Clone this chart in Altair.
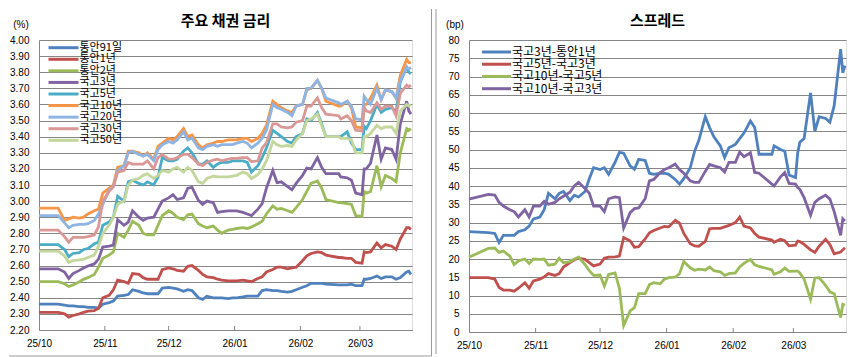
import altair as alt
import pandas as pd

# ---------------- data ----------------
dates = [
    "2025-10-01", "2025-10-10", "2025-10-13", "2025-10-15", "2025-10-17", "2025-10-20", "2025-10-22", "2025-10-24", "2025-10-27", "2025-10-29",
    "2025-10-31", "2025-11-03", "2025-11-05", "2025-11-07", "2025-11-10", "2025-11-12", "2025-11-14", "2025-11-17", "2025-11-19", "2025-11-21",
    "2025-11-24", "2025-11-26", "2025-11-28", "2025-12-01", "2025-12-03", "2025-12-05", "2025-12-08", "2025-12-10", "2025-12-12", "2025-12-15",
    "2025-12-17", "2025-12-19", "2025-12-22", "2025-12-24", "2025-12-26", "2025-12-29", "2025-12-31", "2026-01-02", "2026-01-05", "2026-01-07",
    "2026-01-09", "2026-01-12", "2026-01-14", "2026-01-16", "2026-01-19", "2026-01-21", "2026-01-23", "2026-01-26", "2026-01-28", "2026-01-30",
    "2026-02-02", "2026-02-04", "2026-02-06", "2026-02-09", "2026-02-11", "2026-02-13", "2026-02-19", "2026-02-20", "2026-02-23", "2026-02-25",
    "2026-02-27", "2026-03-02", "2026-03-03", "2026-03-04", "2026-03-06", "2026-03-09", "2026-03-11", "2026-03-13", "2026-03-16", "2026-03-18",
    "2026-03-20", "2026-03-23", "2026-03-24", "2026-03-25",
]

left_names = ["통안91일", "통안1년", "통안2년", "국고3년", "국고5년", "국고10년", "국고20년", "국고30년", "국고50년"]
left_colors = ["#4F81BD", "#C0504D", "#9BBB59", "#8064A2", "#4BACC6", "#F79646", "#8EB4E3", "#D99795", "#C3D69B"]

msb_91d = [2.36, 2.36, 2.355, 2.35, 2.35, 2.345, 2.345, 2.34, 2.34, 2.335,
           2.36, 2.37, 2.38, 2.41, 2.415, 2.42, 2.45, 2.44, 2.43, 2.425,
           2.425, 2.425, 2.46, 2.465, 2.46, 2.455, 2.44, 2.45, 2.445, 2.40,
           2.39, 2.41, 2.40, 2.40, 2.40, 2.395, 2.40, 2.40, 2.405, 2.41,
           2.41, 2.41, 2.445, 2.45, 2.445, 2.445, 2.44, 2.435, 2.44, 2.45,
           2.465, 2.475, 2.49, 2.49, 2.49, 2.485, 2.48, 2.48, 2.48, 2.485,
           2.475, 2.475, 2.515, 2.515, 2.52, 2.535, 2.52, 2.53, 2.53, 2.515,
           2.525, 2.56, 2.565, 2.545]
msb_1y = [2.31, 2.31, 2.30, 2.28, 2.29, 2.30, 2.31, 2.317, 2.32, 2.335,
          2.40, 2.415, 2.45, 2.51, 2.50, 2.49, 2.55, 2.545, 2.525, 2.515,
          2.515, 2.515, 2.575, 2.585, 2.58, 2.57, 2.565, 2.595, 2.60, 2.57,
          2.545, 2.53, 2.525, 2.515, 2.51, 2.505, 2.505, 2.505, 2.51, 2.505,
          2.50, 2.52, 2.53, 2.56, 2.575, 2.59, 2.59, 2.58, 2.585, 2.59,
          2.63, 2.66, 2.675, 2.685, 2.68, 2.665, 2.65, 2.65, 2.645, 2.645,
          2.62, 2.615, 2.685, 2.68, 2.685, 2.74, 2.71, 2.73, 2.72, 2.70,
          2.765, 2.835, 2.835, 2.825]
msb_2y = [2.50, 2.50, 2.487, 2.47, 2.48, 2.50, 2.515, 2.525, 2.545, 2.59,
          2.645, 2.665, 2.685, 2.80, 2.775, 2.82, 2.875, 2.85, 2.80, 2.79,
          2.79, 2.85, 2.91, 2.94, 2.925, 2.90, 2.885, 2.915, 2.92, 2.86,
          2.845, 2.835, 2.845, 2.82, 2.80, 2.82, 2.825, 2.83, 2.835, 2.83,
          2.84, 2.86, 2.875, 2.92, 2.97, 2.95, 2.955, 2.94, 2.93, 2.96,
          3.01, 3.06, 3.11, 3.125, 3.08, 3.01, 2.99, 2.99, 2.985, 2.98,
          2.91, 2.905, 3.06, 3.05, 3.06, 3.22, 3.09, 3.16, 3.14, 3.12,
          3.30, 3.45, 3.44, 3.45]
ktb_3y = [2.58, 2.58, 2.56, 2.52, 2.55, 2.57, 2.585, 2.597, 2.61, 2.64,
          2.715, 2.72, 2.727, 2.885, 2.85, 2.87, 2.94, 2.90, 2.88, 2.895,
          2.90, 2.95, 3.00, 3.02, 3.04, 3.01, 3.02, 3.08, 3.085, 3.005,
          2.98, 3.00, 2.99, 2.93, 2.935, 2.94, 2.94, 2.94, 2.93, 2.92,
          2.91, 2.95, 2.985, 3.08, 3.19, 3.115, 3.12, 3.09, 3.07, 3.11,
          3.16, 3.205, 3.20, 3.27, 3.21, 3.17, 3.17, 3.15, 3.145, 3.13,
          3.05, 3.04, 3.20, 3.20, 3.235, 3.41, 3.26, 3.33, 3.32, 3.26,
          3.48, 3.62, 3.56, 3.54]
ktb_5y = [2.73, 2.73, 2.70, 2.655, 2.675, 2.68, 2.70, 2.705, 2.735, 2.745,
          2.85, 2.87, 2.90, 3.03, 3.00, 3.12, 3.13, 3.11, 3.10, 3.12,
          3.10, 3.15, 3.27, 3.25, 3.25, 3.26, 3.31, 3.33, 3.30, 3.23,
          3.23, 3.25, 3.21, 3.23, 3.24, 3.24, 3.25, 3.25, 3.25, 3.24,
          3.18, 3.22, 3.27, 3.33, 3.44, 3.42, 3.40, 3.37, 3.36, 3.40,
          3.42, 3.51, 3.50, 3.55, 3.48, 3.40, 3.40, 3.40, 3.43, 3.36,
          3.32, 3.32, 3.465, 3.45, 3.50, 3.60, 3.55, 3.57, 3.58, 3.55,
          3.74, 3.83, 3.80, 3.79]
ktb_10y = [2.957, 2.957, 2.88, 2.89, 2.90, 2.895, 2.90, 2.92, 2.94, 2.95,
           3.05, 3.08, 3.10, 3.21, 3.22, 3.31, 3.31, 3.30, 3.28, 3.30,
           3.26, 3.34, 3.36, 3.39, 3.38, 3.40, 3.45, 3.40, 3.41, 3.35,
           3.33, 3.35, 3.36, 3.37, 3.37, 3.38, 3.38, 3.38, 3.39, 3.39,
           3.37, 3.39, 3.42, 3.47, 3.62, 3.60, 3.58, 3.56, 3.55, 3.59,
           3.60, 3.69, 3.70, 3.75, 3.70, 3.62, 3.59, 3.59, 3.62, 3.58,
           3.46, 3.455, 3.60, 3.60, 3.64, 3.72, 3.63, 3.69, 3.68, 3.64,
           3.78, 3.88, 3.86, 3.86]
ktb_20y = [2.91, 2.91, 2.865, 2.835, 2.85, 2.855, 2.855, 2.86, 2.88, 2.92,
           2.98, 3.07, 3.09, 3.19, 3.22, 3.30, 3.31, 3.29, 3.28, 3.29,
           3.25, 3.32, 3.35, 3.37, 3.36, 3.38, 3.43, 3.38, 3.39, 3.33,
           3.32, 3.34, 3.35, 3.34, 3.35, 3.35, 3.35, 3.36, 3.37, 3.36,
           3.33, 3.36, 3.39, 3.44, 3.60, 3.58, 3.57, 3.55, 3.53, 3.59,
           3.60, 3.70, 3.70, 3.75, 3.70, 3.64, 3.61, 3.60, 3.62, 3.59,
           3.51, 3.505, 3.65, 3.63, 3.60, 3.70, 3.63, 3.69, 3.68, 3.64,
           3.75, 3.83, 3.82, 3.83]
ktb_30y = [2.82, 2.82, 2.78, 2.745, 2.775, 2.775, 2.775, 2.78, 2.79, 2.84,
           3.00, 3.06, 3.09, 3.18, 3.19, 3.24, 3.23, 3.23, 3.23, 3.25,
           3.20, 3.27, 3.29, 3.26, 3.26, 3.27, 3.29, 3.29, 3.27, 3.23,
           3.22, 3.24, 3.255, 3.26, 3.25, 3.26, 3.265, 3.265, 3.27, 3.27,
           3.245, 3.25, 3.33, 3.36, 3.48, 3.48, 3.46, 3.455, 3.46, 3.49,
           3.50, 3.59, 3.59, 3.64, 3.58, 3.54, 3.53, 3.51, 3.53, 3.50,
           3.44, 3.435, 3.58, 3.56, 3.55, 3.61, 3.57, 3.59, 3.59, 3.53,
           3.67, 3.72, 3.71, 3.72]
ktb_50y = [2.69, 2.69, 2.66, 2.62, 2.63, 2.635, 2.64, 2.65, 2.665, 2.72,
           2.80, 2.85, 2.90, 2.98, 3.00, 3.10, 3.13, 3.14, 3.16, 3.17,
           3.14, 3.16, 3.19, 3.18, 3.20, 3.21, 3.18, 3.21, 3.19, 3.12,
           3.11, 3.14, 3.155, 3.15, 3.15, 3.15, 3.155, 3.16, 3.18, 3.17,
           3.14, 3.165, 3.20, 3.25, 3.37, 3.35, 3.34, 3.345, 3.34, 3.38,
           3.42, 3.50, 3.51, 3.54, 3.47, 3.40, 3.40, 3.39, 3.39, 3.38,
           3.30, 3.30, 3.40, 3.40, 3.42, 3.47, 3.45, 3.46, 3.46, 3.42,
           3.56, 3.60, 3.59, 3.60]

right_names = ["국고3년-통안1년", "국고5년-국고3년", "국고10년-국고5년", "국고10년-국고3년"]
right_colors = ["#4F81BD", "#C0504D", "#9BBB59", "#8064A2"]

sp_3y_1y = [27.5, 27.2, 27.0, 24.5, 26.5, 26.5, 26.5, 27.5, 28.0, 29.0,
            31.0, 31.5, 33.5, 38.0, 36.5, 38.0, 38.5, 36.0, 37.5, 37.0,
            38.5, 42.0, 45.0, 44.5, 45.0, 43.2, 46.5, 49.2, 49.0, 45.5,
            44.6, 47.3, 47.0, 43.5, 43.2, 43.5, 43.5, 43.2, 41.8, 40.5,
            42.0, 45.0, 49.5, 52.5, 59.0, 56.0, 53.5, 51.0, 47.8, 50.5,
            51.4, 53.0, 54.5, 57.8, 56.0, 48.7, 48.7, 51.0, 50.0, 49.5,
            43.0, 42.3, 49.0, 52.0, 53.0, 65.5, 55.0, 59.0, 58.5, 57.5,
            62.0, 77.5, 71.0, 73.0]
sp_5y_3y = [14.9, 14.9, 14.5, 12.2, 11.5, 11.5, 11.2, 12.0, 13.5, 12.0,
            14.0, 14.5, 15.1, 16.0, 15.5, 16.0, 17.8, 19.0, 19.8, 20.2,
            19.9, 19.0, 18.1, 18.6, 20.2, 20.5, 20.6, 20.8, 25.9, 25.0,
            23.2, 23.4, 25.5, 27.2, 27.8, 28.5, 28.9, 28.8, 30.6, 29.8,
            27.0, 24.2, 23.6, 23.5, 24.8, 28.3, 28.4, 28.4, 28.8, 29.2,
            30.0, 31.5, 29.0, 28.5, 27.0, 26.0, 25.2, 24.6, 25.4, 25.0,
            23.6, 23.8, 24.9, 24.8, 24.0, 22.5, 21.8, 23.5, 25.4, 24.0,
            21.4, 21.9, 22.5, 23.1]
sp_10y_5y = [20.5, 22.9, 23.0, 21.8, 22.2, 20.8, 18.5, 19.5, 20.0, 18.8,
             20.0, 19.9, 20.0, 18.3, 18.6, 20.2, 19.0, 19.3, 20.0, 20.5,
             18.5, 16.8, 15.5, 15.6, 12.6, 15.8, 16.2, 12.0, 1.8, 5.8,
             6.7, 10.5, 10.5, 13.0, 13.5, 13.2, 14.5, 14.9, 15.0, 16.0,
             19.3, 17.6, 16.9, 17.2, 17.0, 17.8, 16.8, 16.5, 15.5, 16.0,
             16.2, 17.8, 18.8, 19.9, 18.4, 18.0, 17.0, 15.8, 16.5, 17.5,
             16.6, 16.7, 16.7, 16.2, 14.5, 9.0, 14.8, 14.9, 12.8, 11.0,
             10.5, 4.0, 7.6, 7.3]
sp_10y_3y = [36.4, 37.7, 37.5, 35.5, 34.5, 33.5, 33.0, 31.5, 33.5, 31.5,
             34.5, 34.5, 35.8, 35.0, 35.5, 36.5, 37.2, 38.3, 40.0, 41.0,
             39.3, 38.0, 34.5, 34.5, 33.0, 36.5, 37.0, 36.8, 28.5, 32.7,
             33.8, 34.0, 36.5, 41.4, 41.8, 43.7, 44.5, 45.0, 46.0, 44.5,
             43.5, 41.4, 41.0, 41.0, 44.0, 45.9, 45.5, 45.0, 43.8, 46.5,
             46.5, 49.3, 48.0, 49.1, 43.7, 43.5, 40.5, 40.0, 42.5, 43.7,
             40.7, 40.5, 39.6, 39.1, 36.8, 32.0, 35.5, 36.5, 37.5, 36.4,
             33.0, 26.5, 31.0, 30.4]

left_series = [msb_91d, msb_1y, msb_2y, ktb_3y, ktb_5y, ktb_10y, ktb_20y, ktb_30y, ktb_50y]
right_series = [sp_3y_1y, sp_5y_3y, sp_10y_5y, sp_10y_3y]

left_y_ticks = [2.20, 2.30, 2.40, 2.50, 2.60, 2.70, 2.80, 2.90, 3.00, 3.10,
                3.20, 3.30, 3.40, 3.50, 3.60, 3.70, 3.80, 3.90, 4.00]
right_y_ticks = [0, 5, 10, 15, 20, 25, 30, 35, 40, 45, 50, 55, 60, 65, 70, 75, 80]
month_starts = ["2025-10-01", "2025-11-01", "2025-12-01", "2026-01-01", "2026-02-01", "2026-03-01"]

left_title = "주요 채권 금리"
right_title = "스프레드"
left_unit = "(%)"
right_unit = "(bp)"

# ---------------- styling ----------------
GRID = "#868686"
KFONT = "Noto Sans CJK KR"
NFONT = "Liberation Sans"
x_start = alt.DateTime(year=2025, month=10, date=1)
x_end = alt.DateTime(year=2026, month=3, date=25, hours=12)
tick_vals = [alt.DateTime(year=int(m[:4]), month=int(m[5:7]), date=1) for m in month_starts]


def long_df(names, series):
    rows = []
    for n, vals in zip(names, series):
        for d, v in zip(dates, vals):
            rows.append({"date": d + "T00:00:00", "series": n, "value": v})
    return pd.DataFrame(rows)


def x_enc(field="date"):
    return alt.X(
        f"{field}:T",
        scale=alt.Scale(domain=[x_start, x_end]),
        axis=alt.Axis(values=tick_vals, format="%y/%m", title=None, grid=False, ticks=False,
                      labelPadding=8, labelFlush=False, labelFont=NFONT, labelFontSize=10,
                      labelColor="#000000", domainColor=GRID, domainWidth=1),
    )


def panel(names, colors, series, y_domain, y_ticks, y_fmt, w, h, title, unit,
          leg_rows, leg_font, border_x, bottom_border):
    df = long_df(names, series)
    color = alt.Color("series:N", scale=alt.Scale(domain=names, range=colors), legend=None)
    lines = alt.Chart(df).mark_line(strokeWidth=2.8).encode(
        x=x_enc(),
        y=alt.Y("value:Q", scale=alt.Scale(domain=y_domain, nice=False, zero=False),
                axis=alt.Axis(values=y_ticks, format=y_fmt, title=None, grid=True, gridColor=GRID,
                              gridWidth=1, ticks=False, labelPadding=10, labelFont=NFONT,
                              labelFontSize=10, labelColor="#000000", domainColor=GRID)),
        color=color,
    )
    mdf = pd.DataFrame({"date": [m + "T00:00:00" for m in month_starts[1:]]})
    mticks = alt.Chart(mdf).mark_rule(color=GRID, strokeWidth=1).encode(
        x=x_enc(), y=alt.value(h - 4), y2=alt.value(h))
    ldf = pd.DataFrame({"series": names})
    ly = alt.Y("series:N", scale=alt.Scale(type="point", domain=names, range=leg_rows, padding=0), axis=None)
    leg_rule = alt.Chart(ldf).mark_rule(strokeWidth=3).encode(
        x=alt.value(leg_font[1]), x2=alt.value(leg_font[2]), y=ly, color=color)
    leg_text = alt.Chart(ldf).mark_text(align="left", baseline="middle", font=KFONT,
                                        fontSize=leg_font[0], color="#000000").encode(
        x=alt.value(leg_font[2] + 1), y=ly, text="series:N")
    tdf = pd.DataFrame({"t": [title]})
    ttl = alt.Chart(tdf).mark_text(font=KFONT, fontSize=15, fontWeight="bold", color="#000000",
                                   align="center", baseline="middle").encode(
        x=alt.value(w / 2), y=alt.value(-19), text="t:N")
    udf = pd.DataFrame({"t": [unit]})
    unit_t = alt.Chart(udf).mark_text(font=NFONT, fontSize=10, color="#000000",
                                      align="center", baseline="middle").encode(
        x=alt.value(unit[1]) if False else alt.value(-18 if unit == left_unit else -14),
        y=alt.value(-15), text="t:N")
    bdf = pd.DataFrame({"b": [0]})
    vborder = alt.Chart(bdf).mark_rule(color="#9A9A9A", strokeWidth=1).encode(
        x=alt.value(border_x[0]), y=alt.value(-31), y2=alt.value(border_x[1]))
    layers = [lines, mticks, leg_rule, leg_text, ttl, unit_t, vborder]
    if bottom_border is not None:
        hb = alt.Chart(bdf).mark_rule(color="#9A9A9A", strokeWidth=1).encode(
            x=alt.value(bottom_border[0]), x2=alt.value(bottom_border[1]), y=alt.value(bottom_border[2]))
        layers.append(hb)
    return alt.layer(*layers).resolve_scale(y="independent").properties(width=w, height=h)


left = panel(left_names, left_colors, left_series, [2.2, 4.0], left_y_ticks, ".2f", 373, 290,
             left_title, left_unit, [7.7, 100.3], (11, 9.5, 39.5), (392.5, 316), (-30, 392.5, 316))
right = panel(right_names, right_colors, right_series, [0, 80], right_y_ticks, "d", 377, 292,
              right_title, right_unit, [12, 48.7], (12, 13, 42), (-33, 314), None)

chart = alt.hconcat(left, right, spacing=2).properties(
    padding={"left": 0, "top": 0, "right": 0, "bottom": 0}
).configure_view(stroke=None).configure(background="#FFFFFF")

chart.save("out.html", embed_options={"renderer": "svg", "actions": False})
